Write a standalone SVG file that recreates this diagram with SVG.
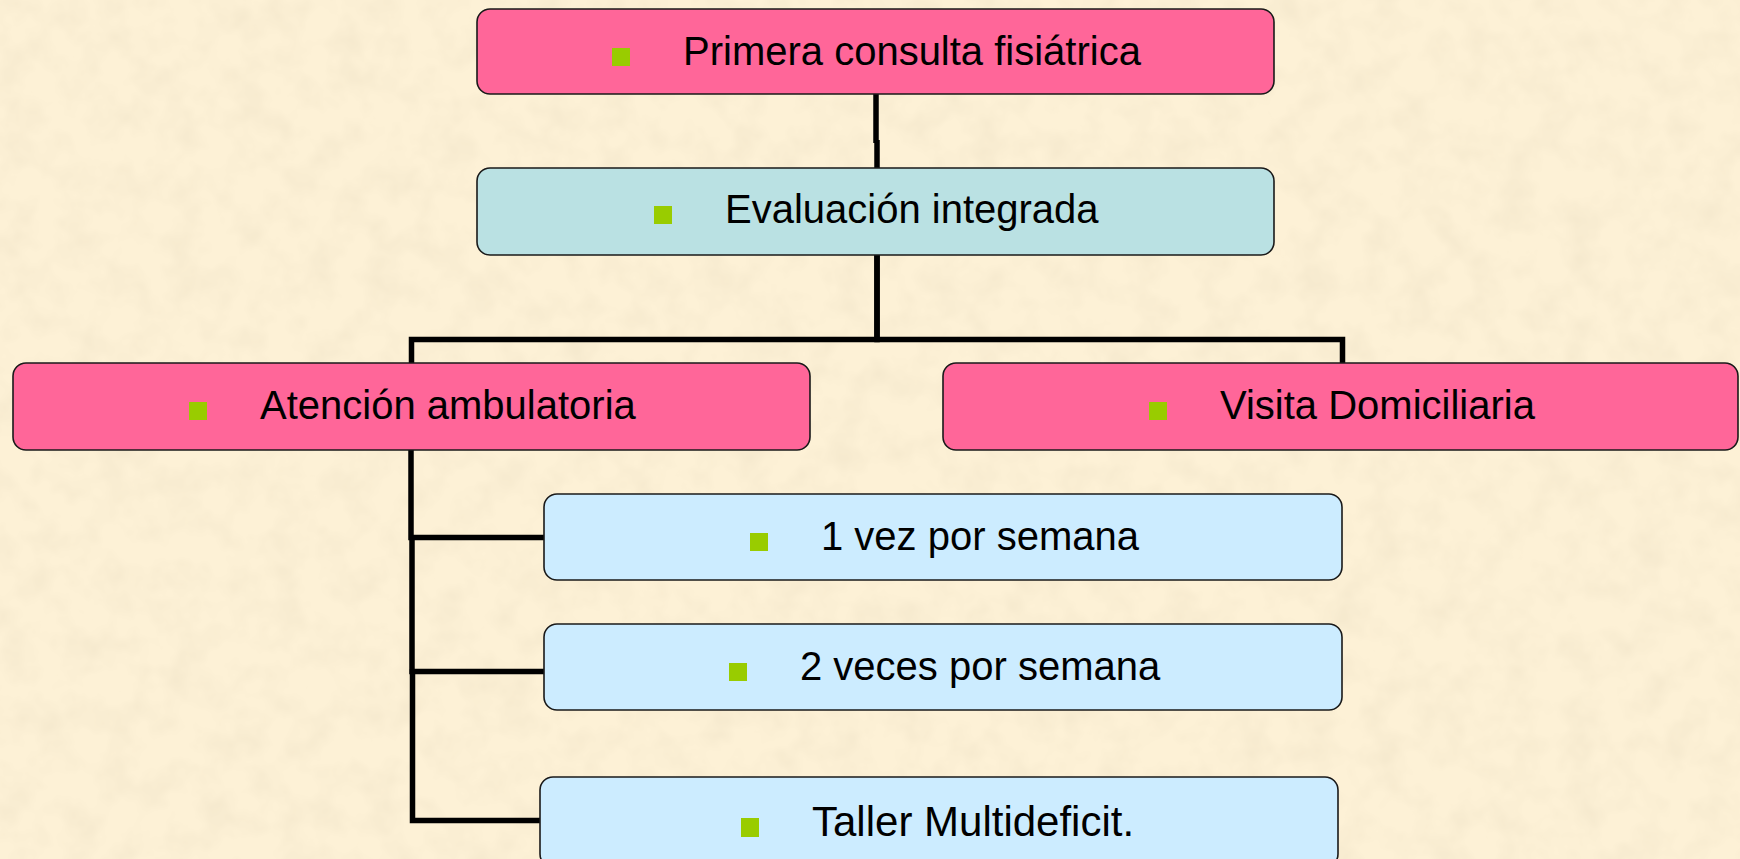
<svg xmlns="http://www.w3.org/2000/svg" width="1740" height="859" viewBox="0 0 1740 859">
  <defs>
    <filter id="paper" x="0" y="0" width="100%" height="100%">
      <feTurbulence type="fractalNoise" baseFrequency="0.03" numOctaves="3" seed="7" result="n"/>
      <feColorMatrix in="n" type="matrix" values="0 0 0 0 0.92  0 0 0 0 0.82  0 0 0 0 0.62  2.0 0 0 0 -0.78"/>
    </filter>
    <style>
      .box { stroke: #1a1a1a; stroke-width: 1.6; }
      .pink { fill: #FF6699; }
      .teal { fill: #BAE1E3; }
      .blue { fill: #CCECFF; }
      .bullet { fill: #99CC00; }
      .lbl { font-family: "Liberation Sans", Arial, sans-serif; font-size: 40px; fill: #000; }
      .conn { fill: none; stroke: #000; stroke-width: 5.5; stroke-linejoin: miter; stroke-linecap: butt; }
    </style>
  </defs>

  <rect x="0" y="0" width="1740" height="859" fill="#FDF1D6"/>
  <rect x="0" y="0" width="1740" height="859" filter="url(#paper)"/>

  <g id="connectors">
    <path class="conn" d="M876 94 V143 M877 140 V168"/>
    <path class="conn" d="M877 255 V339.5 H411.5 V363"/>
    <path class="conn" d="M877 255 V339.5 H1342.5 V363"/>
    <path class="conn" d="M411 450 V537.5 H544"/>
    <path class="conn" d="M412 535 V671.5 H544"/>
    <path class="conn" d="M412.5 669 V820.5 H540"/>
  </g>

  <g id="node-primera">
    <rect class="box pink" x="477" y="9" width="797" height="85" rx="13"/>
    <rect class="bullet" x="612" y="48" width="18" height="18"/>
    <text class="lbl" x="683" y="65">Primera consulta fisiátrica</text>
  </g>

  <g id="node-evaluacion">
    <rect class="box teal" x="477" y="168" width="797" height="87" rx="13"/>
    <rect class="bullet" x="654" y="206" width="18" height="18"/>
    <text class="lbl" x="725" y="223">Evaluación integrada</text>
  </g>

  <g id="node-atencion">
    <rect class="box pink" x="13" y="363" width="797" height="87" rx="13"/>
    <rect class="bullet" x="189" y="402" width="18" height="18"/>
    <text class="lbl" x="260" y="419">Atención ambulatoria</text>
  </g>

  <g id="node-visita">
    <rect class="box pink" x="943" y="363" width="795" height="87" rx="13"/>
    <rect class="bullet" x="1149" y="402" width="18" height="18"/>
    <text class="lbl" x="1220" y="419">Visita Domiciliaria</text>
  </g>

  <g id="node-1vez">
    <rect class="box blue" x="544" y="494" width="798" height="86" rx="13"/>
    <rect class="bullet" x="750" y="533" width="18" height="18"/>
    <text class="lbl" x="821" y="550">1 vez por semana</text>
  </g>

  <g id="node-2veces">
    <rect class="box blue" x="544" y="624" width="798" height="86" rx="13"/>
    <rect class="bullet" x="729" y="663" width="18" height="18"/>
    <text class="lbl" x="800" y="680">2 veces por semana</text>
  </g>

  <g id="node-taller">
    <rect class="box blue" x="540" y="777" width="798" height="90" rx="13"/>
    <rect class="bullet" x="741" y="818" width="18" height="19"/>
    <text class="lbl" x="812" y="836" style="font-size:42px">Taller Multideficit.</text>
  </g>
</svg>
